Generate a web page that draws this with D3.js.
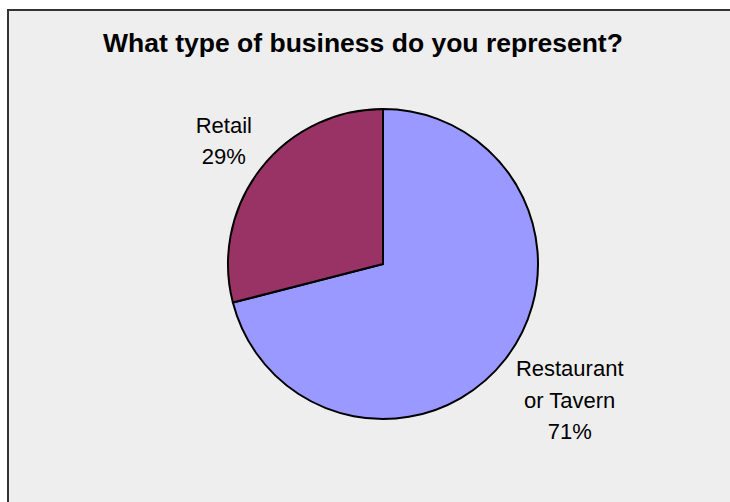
<!DOCTYPE html>
<html>
<head>
<meta charset="utf-8">
<script src="https://cdn.jsdelivr.net/npm/d3@7"></script>
<style>
  html, body { margin: 0; padding: 0; background: #ffffff; }
  svg { display: block; }
</style>
</head>
<body>
<svg id="chart" width="730" height="502"></svg>
<script>
// Survey responses: business type
const categories = ["Restaurant or Tavern", "Retail"];
const labelLines = [["Restaurant", "or Tavern"], ["Retail"]];
const shares = [71, 29];
const colors = ["#9999ff", "#993366"];
const title = "What type of business do you represent?";

const W = 730, H = 502;
const svg = d3.select("#chart");

// chart frame (extends past the right and bottom edges)
svg.append("rect")
  .attr("x", 8).attr("y", 10)
  .attr("width", W + 20).attr("height", H + 20)
  .attr("fill", "#eeeeee")
  .attr("stroke", "#333333").attr("stroke-width", 2);

svg.append("text")
  .attr("x", 363).attr("y", 52)
  .attr("text-anchor", "middle")
  .attr("font-family", "Liberation Sans, Arial, sans-serif")
  .attr("font-weight", "bold")
  .attr("font-size", 26.5)
  .attr("fill", "#000")
  .text(title);

const cx = 383, cy = 264, r = 155;
const g = svg.append("g").attr("transform", `translate(${cx},${cy})`);

const data = categories.map((c, i) => ({ name: c, value: shares[i], lines: labelLines[i], color: colors[i] }));
const pie = d3.pie().value(d => d.value).sort(null).startAngle(0).endAngle(2 * Math.PI);
const arcs = pie(data);
const arc = d3.arc().innerRadius(0).outerRadius(r);

g.selectAll("path.slice")
  .data(arcs)
  .enter().append("path")
  .attr("class", "slice")
  .attr("d", arc)
  .attr("fill", d => d.data.color)
  .attr("stroke", "#000")
  .attr("stroke-width", 2)
  .attr("stroke-linejoin", "round");

// labels sit outside the pie; taller/wider text blocks are pushed further out
const lineH = 31.5;
arcs.forEach(d => {
  const lines = d.data.lines.concat([d.data.value + "%"]);
  const mid = (d.startAngle + d.endAngle) / 2;
  const dist = r * (1.08 + 0.11 * lines.length);
  const push = 14 * (lines.length - 2);
  const lx = Math.sin(mid) * dist + Math.sign(Math.sin(mid)) * push;
  const ly = -Math.cos(mid) * dist;
  const t = g.append("text")
    .attr("text-anchor", "middle")
    .attr("font-family", "Liberation Sans, Arial, sans-serif")
    .attr("font-size", 22)
    .attr("fill", "#000");
  const top = ly - (lines.length - 1) * lineH / 2 + 8 + (lines.length - 2) * 2;
  lines.forEach((s, i) => {
    t.append("tspan").attr("x", lx).attr("y", top + i * lineH).text(s);
  });
});
</script>
</body>
</html>
